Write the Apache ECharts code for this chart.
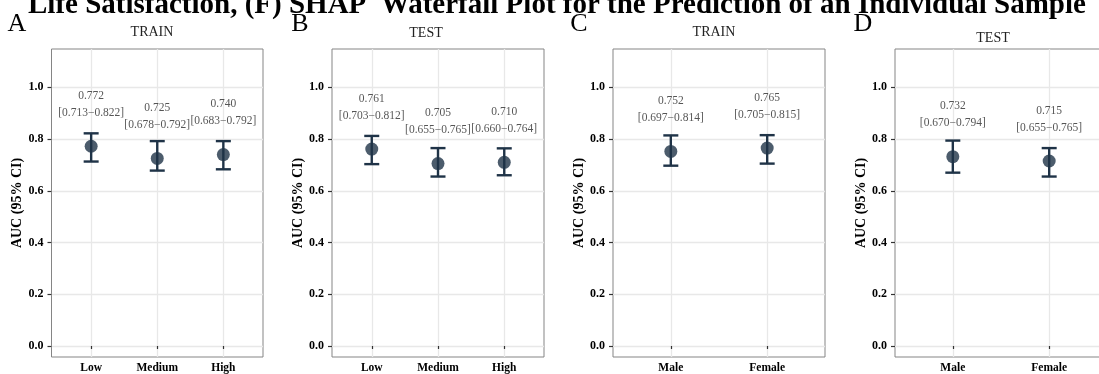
<!DOCTYPE html>
<html>
<head>
<meta charset="utf-8">
<script src="https://cdn.jsdelivr.net/npm/echarts@6/dist/echarts.min.js"></script>
<style>
  html, body { margin: 0; padding: 0; background: #fff; }
  #chart { width: 1099px; height: 374px; }
</style>
</head>
<body>
<div id="chart"></div>
<script>
// categories
const incomeCats = ['Low', 'Medium', 'High'];
const sexCats = ['Male', 'Female'];

// AUC with 95% CI
const trainIncomeAuc = [0.772, 0.725, 0.740];
const trainIncomeLow = [0.713, 0.678, 0.683];
const trainIncomeHigh = [0.822, 0.792, 0.792];

const testIncomeAuc = [0.761, 0.705, 0.710];
const testIncomeLow = [0.703, 0.655, 0.660];
const testIncomeHigh = [0.812, 0.765, 0.764];

const trainSexAuc = [0.752, 0.765];
const trainSexLow = [0.697, 0.705];
const trainSexHigh = [0.814, 0.815];

const testSexAuc = [0.732, 0.715];
const testSexLow = [0.670, 0.655];
const testSexHigh = [0.794, 0.765];

const yTicks = [0, 0.2, 0.4, 0.6, 0.8, 1.0];

const mainTitle = 'Life Satisfaction, (F) SHAP  Waterfall Plot for the Prediction of an Individual Sample';

const serif = '"Liberation Serif", "DejaVu Serif", serif';
const navy = '#1f3347';

const panels = [
  { tag: 'A', name: 'TRAIN', cats: incomeCats, auc: trainIncomeAuc, lo: trainIncomeLow, hi: trainIncomeHigh,
    left: 51.5, width: 211.5, tagX: 17, titleX: 152, titleY: 32 },
  { tag: 'B', name: 'TEST', cats: incomeCats, auc: testIncomeAuc, lo: testIncomeLow, hi: testIncomeHigh,
    left: 332, width: 212, tagX: 300, titleX: 426, titleY: 33 },
  { tag: 'C', name: 'TRAIN', cats: sexCats, auc: trainSexAuc, lo: trainSexLow, hi: trainSexHigh,
    left: 613, width: 212, tagX: 579, titleX: 714, titleY: 32 },
  { tag: 'D', name: 'TEST', cats: sexCats, auc: testSexAuc, lo: testSexLow, hi: testSexHigh,
    left: 895, width: 212, tagX: 863, titleX: 993, titleY: 38 }
];

const grids = [], xAxes = [], yAxes = [], series = [], graphics = [];

graphics.push({
  type: 'text', x: 28, y: 20,
  style: { text: mainTitle, font: 'bold 29px ' + serif, fill: '#000', align: 'left', verticalAlign: 'bottom' }
});

panels.forEach((p, i) => {
  const n = p.cats.length;
  const xs = p.cats.map((c, k) => k + 1);

  grids.push({
    left: p.left, top: 49, width: p.width, height: 308,
    outerBoundsMode: 'none',
    show: true, backgroundColor: '#fff', borderColor: '#858585', borderWidth: 1
  });

  xAxes.push({
    type: 'value', gridIndex: i, min: 0.4, max: n + 0.6,
    axisLine: { show: false },
    axisTick: { show: true, length: 3, lineStyle: { color: '#333', width: 1.2 }, customValues: xs },
    axisLabel: {
      customValues: xs, margin: 5,
      formatter: v => p.cats[Math.round(v) - 1] || '',
      fontFamily: serif, fontWeight: 'bold', fontSize: 11.5, color: '#000'
    },
    splitLine: { show: true, lineStyle: { color: '#e8e8e8', width: 1.3 } }
  });

  yAxes.push({
    type: 'value', gridIndex: i, min: -0.0425, max: 1.148,
    name: 'AUC (95% CI)', nameLocation: 'middle', nameGap: 23,
    nameTextStyle: { fontFamily: serif, fontWeight: 'bold', fontSize: 14, color: '#000' },
    axisLine: { show: false },
    axisTick: { show: true, length: 4, lineStyle: { color: '#333', width: 1.2 }, customValues: yTicks },
    axisLabel: {
      customValues: yTicks, margin: 8,
      formatter: v => v.toFixed(1),
      fontFamily: serif, fontWeight: 'bold', fontSize: 12, color: '#000'
    },
    splitLine: { show: true, lineStyle: { color: '#e8e8e8', width: 1.3 } }
  });

  series.push({
    type: 'custom', xAxisIndex: i, yAxisIndex: i, z: 3,
    data: xs.map((x, k) => [x, p.lo[k], p.hi[k]]),
    renderItem: (params, api) => {
      const x = api.value(0);
      const a = api.coord([x, api.value(1)]);
      const b = api.coord([x, api.value(2)]);
      const hw = 7.5;
      const st = { stroke: navy, lineWidth: 2.4, fill: null };
      return {
        type: 'group',
        children: [
          { type: 'line', shape: { x1: a[0], y1: a[1], x2: b[0], y2: b[1] }, style: st },
          { type: 'line', shape: { x1: a[0] - hw, y1: a[1], x2: a[0] + hw, y2: a[1] }, style: st },
          { type: 'line', shape: { x1: b[0] - hw, y1: b[1], x2: b[0] + hw, y2: b[1] }, style: st }
        ]
      };
    }
  });

  series.push({
    type: 'scatter', xAxisIndex: i, yAxisIndex: i, z: 4,
    symbol: 'circle', symbolSize: 13,
    itemStyle: { color: navy },
    data: xs.map((x, k) => [x, p.auc[k]]),
    label: {
      show: true, position: 'inside', offset: [0, -42],
      formatter: prm => {
        const k = prm.dataIndex;
        return p.auc[k].toFixed(3) + '\n[' + p.lo[k].toFixed(3) + '\u2212' + p.hi[k].toFixed(3) + ']';
      },
      fontFamily: serif, fontSize: 11.5, color: '#2a2a2a', lineHeight: 17
    }
  });

  graphics.push({
    type: 'text', x: p.tagX, y: 24,
    style: { text: p.tag, font: '26px ' + serif, fill: '#000', align: 'center', verticalAlign: 'middle' }
  });
  graphics.push({
    type: 'text', x: p.titleX, y: p.titleY,
    style: { text: p.name, font: '14px ' + serif, fill: '#222', align: 'center', verticalAlign: 'middle' }
  });
});

const chart = echarts.init(document.getElementById('chart'));
chart.setOption({
  animation: false,
  backgroundColor: '#fff',
  grid: grids,
  xAxis: xAxes,
  yAxis: yAxes,
  series: series,
  graphic: graphics
});
</script>
</body>
</html>
